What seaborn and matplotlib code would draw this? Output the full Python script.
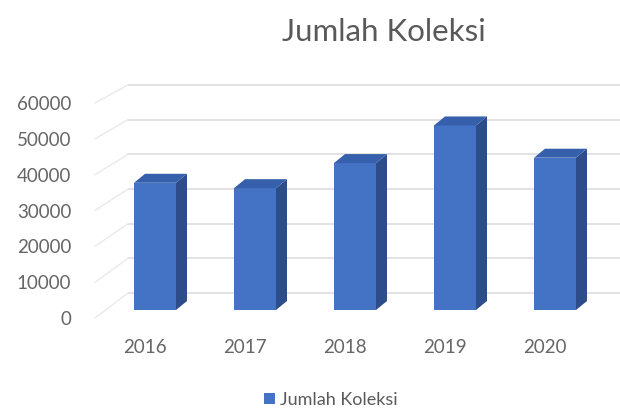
import pandas as pd
import matplotlib
matplotlib.use("Agg")
import matplotlib.pyplot as plt
import matplotlib.transforms as mtransforms
from matplotlib.patches import Polygon
import seaborn as sns

# Data
years = ["2016", "2017", "2018", "2019", "2020"]
koleksi = [35500, 34000, 41000, 51500, 42500]
y_ticks = [0, 10000, 20000, 30000, 40000, 50000, 60000]

front_color = "#4472C4"
side_color = "#2C4D8A"
top_color = "#3660AC"
grid_color = "#DADADA"
text_color = "#595959"

sns.set_theme(style="white")
plt.rcParams["font.family"] = ["Lato", "DejaVu Sans"]

df = pd.DataFrame({"Tahun": years, "Jumlah Koleksi": koleksi})

fig = plt.figure(figsize=(6.2, 4.11), dpi=100)
# front plane of the 3d box
ax = fig.add_axes([95 / 620, (411 - 318) / 411, 500 / 620, 215 / 411])

px_x = 100.0          # pixels per category
px_y = 215 / 60000    # pixels per unit (front plane)

# bars sit a bit behind the front plane
bar_shift = mtransforms.offset_copy(ax.transData, fig=fig, x=10, y=8, units="dots")

sns.barplot(data=df, x="Tahun", y="Jumlah Koleksi", color=front_color,
            saturation=1, width=0.42, label="Jumlah Koleksi", ax=ax, zorder=3)

# 3d depth of each bar
dx = 11 / px_x
dy = 9 / px_y
for p in list(ax.patches):
    p.set_transform(bar_shift)
    p.set_edgecolor("none")
    x0 = p.get_x()
    x1 = x0 + p.get_width()
    h = p.get_height()
    side = Polygon([(x1, 0), (x1, h), (x1 + dx, h + dy), (x1 + dx, dy)],
                   closed=True, facecolor=side_color, edgecolor="none",
                   transform=bar_shift, zorder=3, clip_on=False)
    top = Polygon([(x0, h), (x1, h), (x1 + dx, h + dy), (x0 + dx, h + dy)],
                  closed=True, facecolor=top_color, edgecolor="none",
                  transform=bar_shift, zorder=3, clip_on=False)
    ax.add_patch(side)
    ax.add_patch(top)

# back wall gridlines and left wall diagonals
wall_x = -0.5 + 33 / px_x
for v in y_ticks:
    back = (25 + v * 208 / 60000) / px_y
    ax.plot([wall_x, 4.9], [back, back], color=grid_color, lw=1.1,
            zorder=1, clip_on=False)
    ax.plot([-0.5, wall_x], [v, back], color="#EBEBEB", lw=1.1,
            zorder=1, clip_on=False)

ax.set_xlim(-0.5, 4.5)
ax.set_ylim(0, 60000)
ax.set_yticks(y_ticks)
ax.set_yticklabels([str(v) for v in y_ticks])
ax.set_xlabel("")
ax.set_ylabel("")
ax.tick_params(axis="both", length=0, colors="#666666", labelsize=13.5)
ax.tick_params(axis="x", pad=15)
ax.tick_params(axis="y", pad=17)
sns.despine(ax=ax, left=True, bottom=True)

fig.text(384 / 620, 1 - 32 / 411, "Jumlah Koleksi", ha="center", va="center",
         fontsize=22.5, color=text_color)

ax.legend(loc="center", bbox_to_anchor=(331 / 620, 1 - 400 / 411),
          bbox_transform=fig.transFigure, frameon=False, fontsize=13,
          handlelength=0.6, handleheight=0.6, handletextpad=0.3,
          labelcolor=text_color)

fig.savefig("out.png", dpi=100)
